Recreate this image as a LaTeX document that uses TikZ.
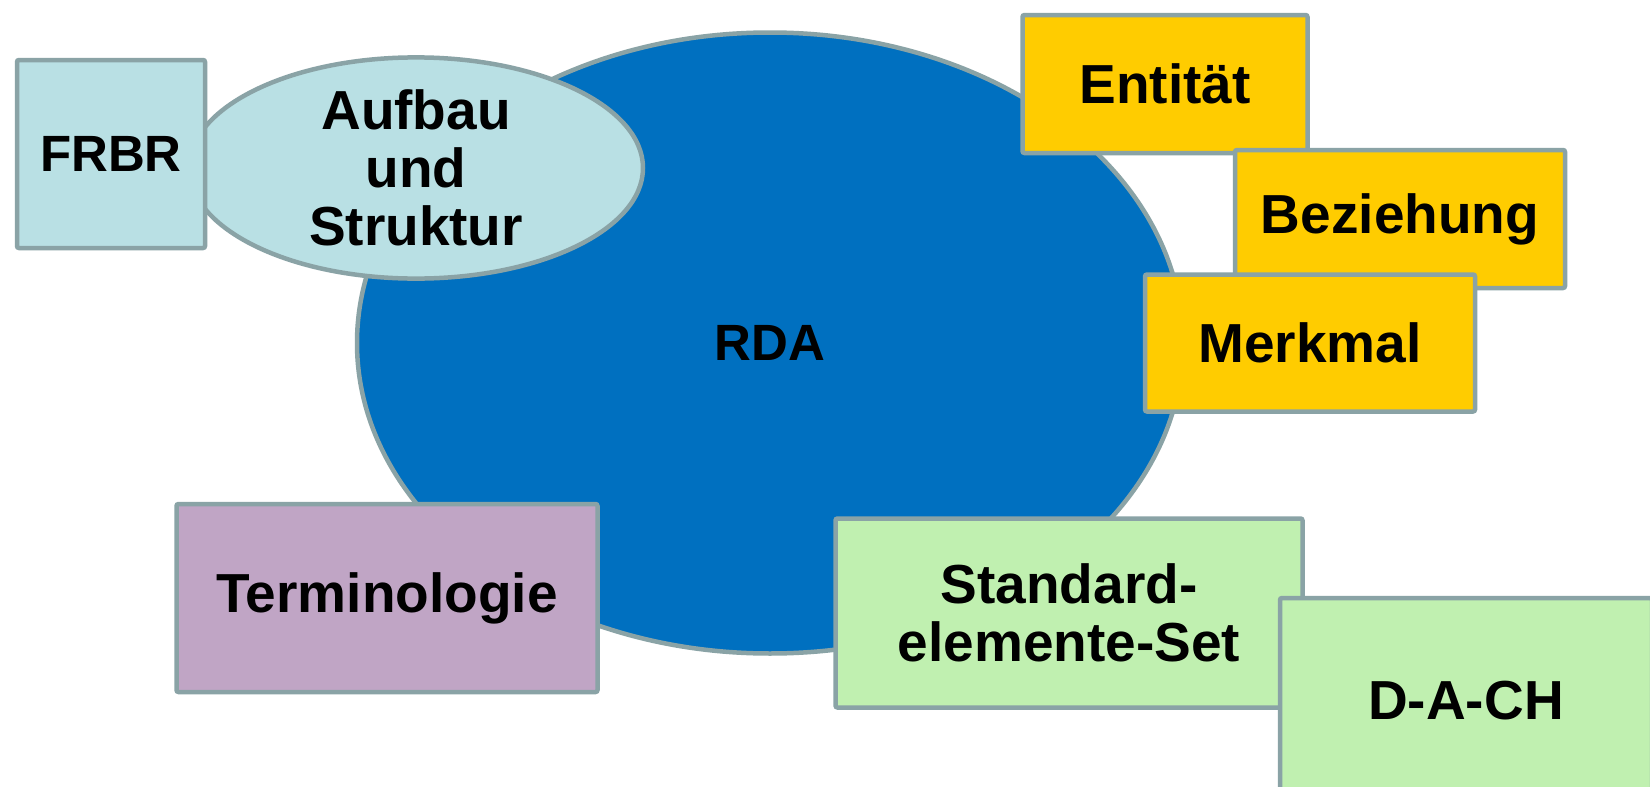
\documentclass[tikz,border=0pt]{standalone}
\usepackage{fontspec}
\setmainfont{Liberation Sans}
\usetikzlibrary{shapes.geometric}
\definecolor{edgegrey}{HTML}{8AA3A6}
\definecolor{rdablue}{HTML}{0070C0}
\definecolor{lightblue}{HTML}{B9E0E4}
\definecolor{gold}{HTML}{FFCC00}
\definecolor{mauve}{HTML}{C0A5C5}
\definecolor{mint}{HTML}{C0F0B0}
\tikzset{
  base/.style={draw=edgegrey, line width=4.5pt, inner sep=0pt, align=center,
    font=\bfseries\fontsize{55}{58}\selectfont, text=black},
  box/.style={base, rectangle, rounded corners=2pt},
  oval/.style={base, ellipse},
}
\begin{document}
\begin{tikzpicture}[x=1pt,y=-1pt]
\useasboundingbox (0,0) rectangle (1650,787);
\clip (0,0) rectangle (1650,787);
\fill[white] (0,0) rectangle (1650,787);
% main ellipse
\node[oval, fill=rdablue, minimum width=826, minimum height=621,
  font=\bfseries\fontsize{51}{55}\selectfont] (rda) at (770,343) {RDA};
% Aufbau ellipse
\node[oval, fill=lightblue, minimum width=454, minimum height=182] (aufbau) at (416,168) {Aufbau\\und\\Struktur};
% FRBR
\node[box, fill=lightblue, minimum width=188, minimum height=188,
  font=\bfseries\fontsize{51}{55}\selectfont] (frbr) at (111,154) {FRBR};
% yellow boxes
\node[box, fill=gold, minimum width=285, minimum height=138] (entitaet) at (1165,84) {Entität};
\node[box, fill=gold, minimum width=330, minimum height=138] (beziehung) at (1400,219) {Beziehung};
\node[box, fill=gold, minimum width=330, minimum height=137] (merkmal) at (1310,343) {Merkmal};
% Terminologie
\node[box, fill=mauve, minimum width=421, minimum height=188] (termin) at (387,598) {Terminologie};
% Standardelemente-Set
\node[box, fill=mint, minimum width=467, minimum height=189] (standard) at (1069,613) {Standard-\\elemente-Set};
% D-A-CH
\node[box, fill=mint, minimum width=372, minimum height=206] (dach) at (1466,701) {D-A-CH};
\end{tikzpicture}
\end{document}
